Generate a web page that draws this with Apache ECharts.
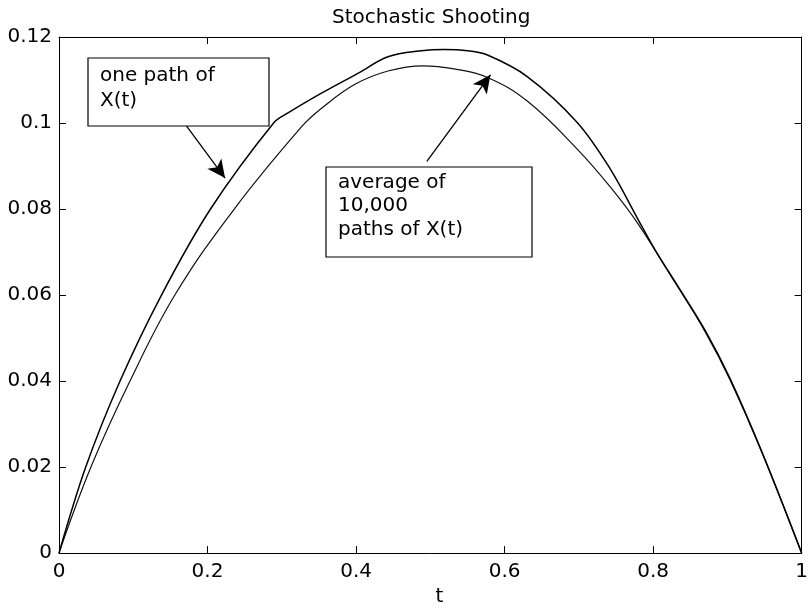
<!DOCTYPE html>
<html>
<head>
<meta charset="utf-8">
<script src="https://cdn.jsdelivr.net/npm/echarts@6/dist/echarts.min.js"></script>
<style>html,body{margin:0;padding:0;background:#fff}#c{width:811px;height:612px}</style>
</head>
<body>
<div id="c"></div>
<script>
// ---- data ----
var titleText = 'Stochastic Shooting';
var xName = 't';
var xTicks = [0, 0.2, 0.4, 0.6, 0.8, 1];
var yTicks = [0, 0.02, 0.04, 0.06, 0.08, 0.1, 0.12];

var avgT = [0, 0.043, 0.0956, 0.156, 0.236, 0.327, 0.354, 0.3985, 0.443, 0.49, 0.532, 0.577, 0.6305, 0.6975, 0.742, 0.78, 0.831, 0.87, 0.903, 0.947, 1];
var avgV = [0, 0.02, 0.04, 0.06, 0.08, 0.0992, 0.1035, 0.109, 0.1121, 0.1133, 0.1126, 0.1106, 0.1051, 0.094, 0.0852, 0.0765, 0.0625, 0.0515, 0.0405, 0.0232, 0];

var pathT = [0, 0.036, 0.0822, 0.138, 0.204, 0.289, 0.309, 0.354, 0.403, 0.443, 0.488, 0.519, 0.55, 0.577, 0.6305, 0.6975, 0.742, 0.78, 0.805, 0.831, 0.87, 0.903, 0.947, 1];
var pathV = [0, 0.02, 0.04, 0.06, 0.08, 0.1, 0.1024, 0.107, 0.1116, 0.1154, 0.1168, 0.1171, 0.1168, 0.1158, 0.1108, 0.1002, 0.0894, 0.0775, 0.0698, 0.0627, 0.0518, 0.0408, 0.0233, 0];

var note1Lines = ['one path of', 'X(t)'];
var note2Lines = ['average of', '10,000', 'paths of X(t)'];
// arrows in data coordinates: [fromT, fromV, toT, toV]
var arrow1 = [0.1499, 0.1044, 0.2236, 0.0872];
var arrow2 = [0.4953, 0.0911, 0.581, 0.1112];

// ---- chart ----
function pairs(t, v) { return t.map(function (x, i) { return [x, v[i]]; }); }
var FONT = 'DejaVu Sans';
var chart = echarts.init(document.getElementById('c'));
var axisLineStyle = { color: '#000', width: 1 };
chart.setOption({
  animation: false,
  backgroundColor: '#fff',
  title: {
    text: titleText, left: 327, top: 3,
    textStyle: { fontFamily: FONT, fontSize: 20, fontWeight: 'normal', color: '#000' }
  },
  grid: { left: 59, right: 5, top: 37, bottom: 52, show: false },
  xAxis: [{
    type: 'value', min: 0, max: 1, interval: 0.2,
    axisLine: { show: true, onZero: false, lineStyle: axisLineStyle },
    axisTick: { show: true, inside: true, length: 7, lineStyle: axisLineStyle },
    splitLine: { show: false },
    axisLabel: { fontFamily: FONT, fontSize: 20, color: '#000', margin: 9 },
    name: xName, nameLocation: 'middle', nameGap: 29,
    nameTextStyle: { fontFamily: FONT, fontSize: 20, color: '#000', padding: [0, 0, 0, 18] }
  }, {
    type: 'value', min: 0, max: 1, interval: 0.2, position: 'top',
    axisLine: { show: true, onZero: false, lineStyle: axisLineStyle },
    axisTick: { show: true, inside: true, length: 7, lineStyle: axisLineStyle },
    splitLine: { show: false }, axisLabel: { show: false }
  }],
  yAxis: [{
    type: 'value', min: 0, max: 0.12, interval: 0.02,
    axisLine: { show: true, onZero: false, lineStyle: axisLineStyle },
    axisTick: { show: true, inside: true, length: 7, lineStyle: axisLineStyle },
    splitLine: { show: false },
    axisLabel: { fontFamily: FONT, fontSize: 20, color: '#000', margin: 7 }
  }, {
    type: 'value', min: 0, max: 0.12, interval: 0.02, position: 'right',
    axisLine: { show: true, onZero: false, lineStyle: axisLineStyle },
    axisTick: { show: true, inside: true, length: 7, lineStyle: axisLineStyle },
    splitLine: { show: false }, axisLabel: { show: false }
  }],
  series: [{
    name: 'average', type: 'line', data: pairs(avgT, avgV),
    showSymbol: false, smooth: 0.4,
    lineStyle: { color: '#111', width: 1.2 }, silent: true,
    markLine: {
      silent: true, symbol: ['none', 'arrow'], symbolSize: [13, 18],
      label: { show: false },
      lineStyle: { color: '#000', width: 1.3, type: 'solid' },
      data: [
        [{ coord: [arrow1[0], arrow1[1]] }, { coord: [arrow1[2], arrow1[3]] }],
        [{ coord: [arrow2[0], arrow2[1]] }, { coord: [arrow2[2], arrow2[3]] }]
      ]
    }
  }, {
    name: 'path', type: 'line', data: pairs(pathT, pathV),
    showSymbol: false, smooth: 0.35,
    lineStyle: { color: '#000', width: 1.5 }, silent: true
  }],
  graphic: [
    { type: 'rect', shape: { x: 88, y: 58, width: 181, height: 68 },
      style: { fill: '#fff', stroke: '#000', lineWidth: 1.2 }, z: 10 },
    { type: 'text', x: 100, y: 63, z: 11,
      style: { text: note1Lines.join('\n'), font: '20px "DejaVu Sans"', fill: '#000', lineHeight: 25 } },
    { type: 'rect', shape: { x: 326, y: 167, width: 206, height: 90 },
      style: { fill: '#fff', stroke: '#000', lineWidth: 1.2 }, z: 10 },
    { type: 'text', x: 338, y: 171, z: 11,
      style: { text: note2Lines.join('\n'), font: '20px "DejaVu Sans"', fill: '#000', lineHeight: 23.5 } }
  ]
});
</script>
</body>
</html>
